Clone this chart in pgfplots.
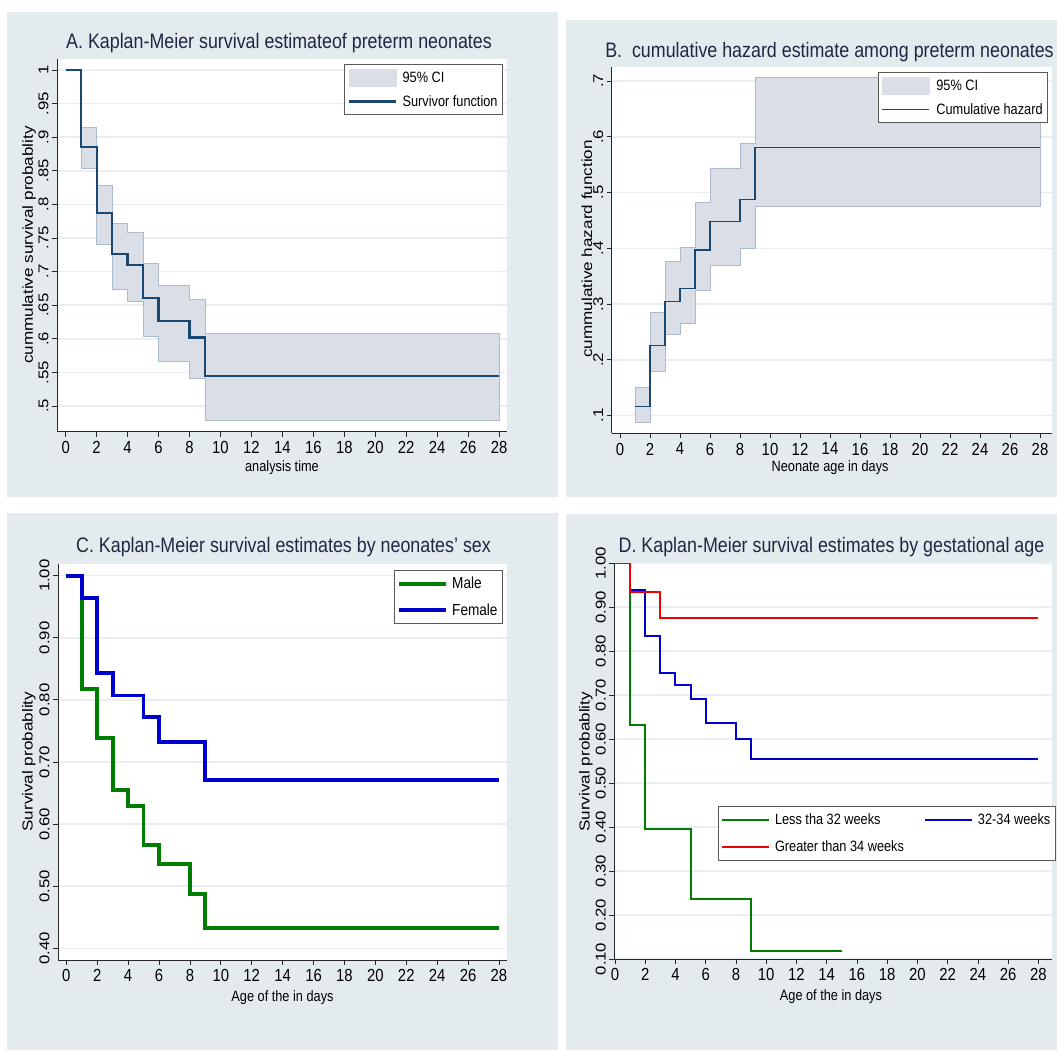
\documentclass[border=0pt]{standalone}
\usepackage{pgfplots}
\pgfplotsset{compat=1.18}
\usepackage{fontspec}
\setmainfont[FakeStretch=0.85]{Liberation Sans}
\newfontfamily\vfont[FakeStretch=1.18]{Liberation Sans}
\definecolor{bgc}{RGB}{228,235,239}
\definecolor{gridc}{RGB}{232,239,242}
\definecolor{cifill}{RGB}{217,222,231}
\definecolor{cidraw}{RGB}{172,186,204}
\definecolor{navy}{RGB}{26,71,111}
\definecolor{titlec}{RGB}{30,40,66}
\definecolor{kmgreen}{RGB}{0,125,0}
\definecolor{kmblue}{RGB}{0,0,205}
\definecolor{kmred}{RGB}{240,0,0}
\pgfplotsset{
  km/.style={
    scale only axis,
    axis x line*=bottom, axis y line*=left,
    axis line style={-, black!85, line width=1pt},
    axis background/.style={fill=white},
    tick align=outside, major tick length=5pt,
    every tick/.style={black!85, line width=0.8pt},
    xtick={0,2,...,28},
    ymajorgrids, grid style={gridc, line width=1.6pt},
    x tick label style={font=\fontsize{17.5}{17.5}\selectfont, yshift=-1pt},
    y tick label style={font=\vfont\fontsize{14.2}{14.2}\selectfont, rotate=90, anchor=south},
    /pgf/number format/assume math mode=true,
    xlabel style={font=\fontsize{15}{16}\selectfont},
    ylabel style={font=\vfont\fontsize{14.5}{15}\selectfont},
    legend cell align=left,
    legend style={draw=black!65, line width=0.8pt, fill=white,
      font=\fontsize{15}{15}\selectfont, inner xsep=3pt, inner ysep=5pt, row sep=6pt},
  },
  kmline/.style={legend image code/.code={\draw[##1] (0pt,0pt) -- (47pt,0pt); \path[draw=none, fill=none] (0pt,0pt) -- (51pt,0pt);}},
  kmarea/.style={legend image code/.code={\fill[cifill, draw=none] (0pt,-9pt) rectangle (48pt,9pt); \path[draw=none, fill=none] (0pt,0pt) -- (52pt,0pt);}},
}
\begin{document}
\begin{tikzpicture}[x=1pt,y=1pt]
\useasboundingbox (0,0) rectangle (1057,1050);
\clip (0,0) rectangle (1057,1050);
% backgrounds
\fill[bgc] (7,553) rectangle (558,1038);
\fill[bgc] (566,553) rectangle (1057,1030);
\fill[bgc] (7,0) rectangle (558,537);
\fill[bgc] (566,0) rectangle (1057,536);
% titles
\node[font=\fontsize{21}{22}\selectfont, text=titlec] at (279,1007) {A. Kaplan-Meier survival estimateof preterm neonates};
\node[font=\fontsize{21}{22}\selectfont, text=titlec] at (829.5,998) {B.\ \ cumulative hazard estimate among preterm neonates};
\node[font=\fontsize{21}{22}\selectfont, text=titlec] at (283.5,503) {C. Kaplan-Meier survival estimates by neonates' sex};
\node[font=\fontsize{21}{22}\selectfont, text=titlec] at (831.5,503) {D. Kaplan-Meier survival estimates by gestational age};

% ---------- A ----------
\begin{axis}[km, at={(57pt,618pt)}, anchor=south west, width=450pt, height=373pt,
  xmin=-0.56, xmax=28.51, ymin=0.4613, ymax=1.0164,
  ytick={0.5,0.55,...,1.01},
  yticklabels={.5,.55,.6,.65,.7,.75,.8,.85,.9,.95,1},
  xlabel={analysis time},
  ylabel={cummulative survival probablity},
  xlabel style={at={(axis description cs:0.5,-0.0965)}, anchor=center},
  ylabel style={at={(axis description cs:-0.0622,0.501)}, anchor=center},
  legend style={at={(0.991,0.987)}, anchor=north east},
]
\addplot[kmarea, fill=cifill, draw=cidraw, line width=0.8pt] coordinates {
 (1,.914) (2,.914) (2,.828) (3,.828) (3,.772) (4,.772) (4,.758) (5,.758) (5,.712) (6,.712)
 (6,.679) (8,.679) (8,.659) (9,.659) (9,.608) (28,.608) (28,.478) (9,.478) (9,.541) (8,.541)
 (8,.567) (6,.567) (6,.603) (5,.603) (5,.656) (4,.656) (4,.674) (3,.674) (3,.741) (2,.741)
 (2,.853) (1,.853)} -- cycle;
\addlegendentry{95\% CI}
\addplot[kmline, const plot, navy, line width=2.2pt] coordinates {
 (0,1) (1,.886) (2,.787) (3,.726) (4,.710) (5,.661) (6,.626) (8,.602) (9,.545) (28,.545)};
\addlegendentry{Survivor function}
\end{axis}

% ---------- B ----------
\begin{axis}[km, at={(611.7pt,616.7pt)}, anchor=south west, width=440.3pt, height=366.6pt,
  xmin=-0.553, xmax=28.8, ymin=0.0684, ymax=0.7256,
  ytick={0.1,0.2,...,0.71},
  yticklabels={.1,.2,.3,.4,.5,.6,.7},
  xlabel={Neonate age in days},
  ylabel={cummulative hazard function},
  xlabel style={at={(axis description cs:0.496,-0.0947)}, anchor=center},
  ylabel style={at={(axis description cs:-0.056,0.503)}, anchor=center},
  legend style={at={(0.991,0.9856)}, anchor=north east},
]
\addplot[kmarea, fill=cifill, draw=cidraw, line width=0.8pt] coordinates {
 (1,.151) (2,.151) (2,.285) (3,.285) (3,.376) (4,.376) (4,.402) (5,.402) (5,.483) (6,.483)
 (6,.544) (8,.544) (8,.588) (9,.588) (9,.707) (28,.707) (28,.476) (9,.476) (9,.400) (8,.400)
 (8,.370) (6,.370) (6,.325) (5,.325) (5,.266) (4,.266) (4,.246) (3,.246) (3,.180) (2,.180)
 (2,.088) (1,.088)} -- cycle;
\addlegendentry{95\% CI}
\addplot[kmline, const plot, navy, line width=1.4pt] coordinates {
 (1,.116) (2,.226) (3,.305) (4,.328) (5,.397) (6,.448) (8,.487) (9,.581) (28,.581)};
\addlegendentry{Cumulative hazard}
\end{axis}

% ---------- C ----------
\begin{axis}[km, at={(58pt,90pt)}, anchor=south west, width=449pt, height=396pt,
  xmin=-0.537, xmax=28.52, ymin=0.3812, ymax=1.0188,
  ytick={0.4,0.5,...,1.01},
  yticklabels={0.40,0.50,0.60,0.70,0.80,0.90,1.00},
  xlabel={Age of the in days},
  ylabel={Survival probablity},
  xlabel style={at={(axis description cs:0.5,-0.096)}, anchor=center},
  ylabel style={at={(axis description cs:-0.0646,0.5008)}, anchor=center},
  legend style={at={(0.991,0.985)}, anchor=north east, font=\fontsize{16}{16}\selectfont, row sep=9pt},
]
\addplot[kmline, const plot, kmgreen, line width=3.8pt] coordinates {
 (0,1) (1,.817) (2,.739) (3,.655) (4,.629) (5,.567) (6,.536) (8,.487) (9,.433) (28,.433)};
\addlegendentry{Male}
\addplot[kmline, const plot, kmblue, line width=3.8pt] coordinates {
 (0,1) (1,.964) (2,.843) (3,.807) (5,.772) (6,.732) (9,.671) (28,.671)};
\addlegendentry{Female}
\end{axis}

% ---------- D ----------
\begin{axis}[km, at={(614.3pt,91pt)}, anchor=south west, width=437.7pt, height=396pt,
  xmin=-0.046, xmax=28.9, ymin=0.1, ymax=1.0,
  ytick={0.1,0.2,...,1.01},
  yticklabels={0.10,0.20,0.30,0.40,0.50,0.60,0.70,0.80,0.90,1.00},
  xlabel={Age of the in days},
  ylabel={Survival probablity},
  xlabel style={at={(axis description cs:0.495,-0.095)}, anchor=center},
  ylabel style={at={(axis description cs:-0.0647,0.498)}, anchor=center},
  legend columns=2,
  legend style={at={(0.236,0.386)}, anchor=north west, row sep=11pt,
    /tikz/every even column/.append style={column sep=18pt}},
]
\addplot[kmline, const plot, kmgreen, line width=2pt] coordinates {
 (0,1) (1,.632) (2,.395) (5,.237) (9,.118) (15,.118)};
\addlegendentry{Less tha 32 weeks}
\addplot[kmline, const plot, kmblue, line width=2pt] coordinates {
 (0,1) (1,.938) (2,.833) (3,.750) (4,.723) (5,.692) (6,.636) (8,.599) (9,.555) (28,.555)};
\addlegendentry{32-34 weeks}
\addplot[kmline, const plot, kmred, line width=2pt] coordinates {
 (0,1) (1,.933) (3,.875) (28,.875)};
\addlegendentry{Greater than 34 weeks}
\end{axis}
\end{tikzpicture}
\end{document}
